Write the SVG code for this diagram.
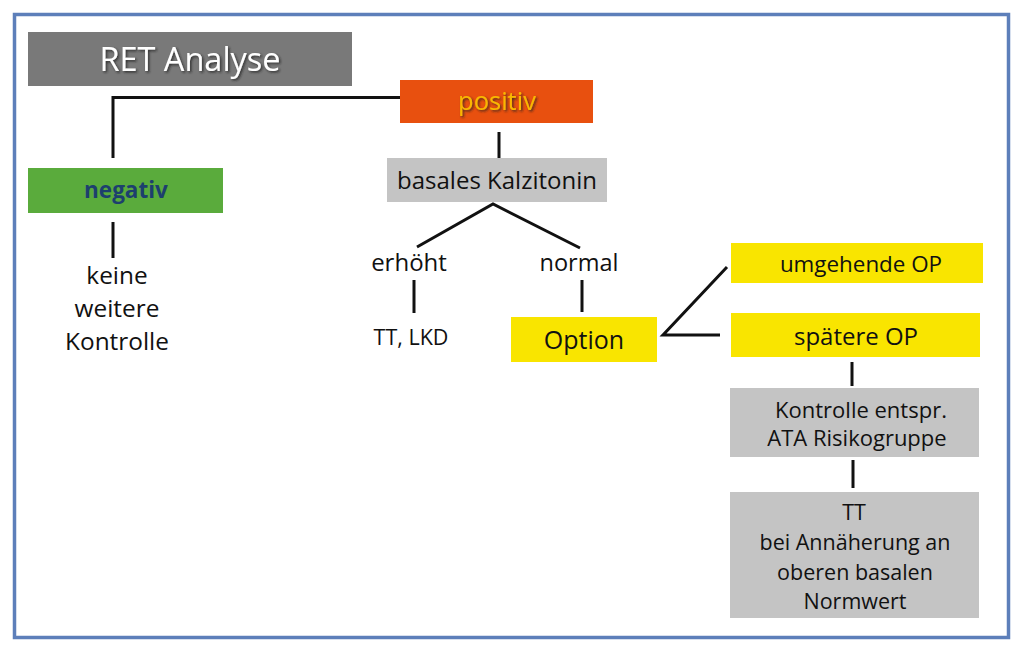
<svg xmlns="http://www.w3.org/2000/svg" width="1024" height="656" viewBox="0 0 1024 656">
<defs>
<filter id="sh" x="-10%" y="-20%" width="130%" height="150%">
<feDropShadow dx="1.5" dy="1.5" stdDeviation="0.8" flood-color="#222" flood-opacity="0.8"/>
</filter>
<style>
text{font-family:"Open Sans",Lato,"Liberation Sans",sans-serif;text-anchor:middle;fill:#111}
.ln{stroke:#111;stroke-width:3;fill:none}
.gray{fill:#c4c4c4}
.yel{fill:#f9e500}
</style>
</defs>
<rect x="0" y="0" width="1024" height="656" fill="#fff"/>
<rect x="14.5" y="14.5" width="994" height="623" fill="#fff" stroke="#5d7fba" stroke-width="3.5"/>

<g id="connectors">
<polyline class="ln" points="113,158 113,97.5 400,97.5"/>
<line class="ln" x1="499" y1="132" x2="499" y2="162"/>
<line class="ln" x1="113" y1="222" x2="113" y2="258"/>
<polyline class="ln" points="417,247 493,204 580,248"/>
<line class="ln" x1="414" y1="280" x2="414" y2="313"/>
<line class="ln" x1="582" y1="280" x2="582" y2="312"/>
<polyline class="ln" points="727,267 663,335 720,335"/>
<line class="ln" x1="852" y1="362" x2="852" y2="386"/>
<line class="ln" x1="853" y1="460" x2="853" y2="488"/>
</g>

<g id="ret">
<rect x="28" y="32" width="324" height="54" fill="#797979"/>
<text x="190" y="71" font-size="32.5" style="fill:#fff" filter="url(#sh)">RET Analyse</text>
</g>
<g id="positiv">
<rect x="400" y="80" width="193" height="43" fill="#e8500f"/>
<text x="497" y="110" font-size="25.5" style="fill:#f9b800" filter="url(#sh)">positiv</text>
</g>
<g id="kalzitonin">
<rect class="gray" x="387" y="158" width="220" height="44"/>
<text x="497" y="189" font-size="24">basales Kalzitonin</text>
</g>
<g id="negativ">
<rect x="28" y="168" width="195" height="45" fill="#5aab3c"/>
<text x="126" y="198" font-size="22.5" font-weight="bold" style="fill:#1d3f6e">negativ</text>
</g>
<g id="keine">
<text x="117" y="284" font-size="24.4">keine</text>
<text x="117" y="317" font-size="24.4">weitere</text>
<text x="117" y="350" font-size="24.4">Kontrolle</text>
</g>
<g id="erhoeht">
<text x="409" y="271" font-size="24">erhöht</text>
</g>
<g id="normal">
<text x="579" y="271" font-size="23.5">normal</text>
</g>
<g id="ttlkd">
<text x="411" y="345" font-size="21.5">TT, LKD</text>
</g>
<g id="option">
<rect class="yel" x="511" y="317" width="146" height="45"/>
<text x="584" y="349" font-size="25">Option</text>
</g>
<g id="umgehend">
<rect class="yel" x="731" y="243" width="252" height="40"/>
<text x="861" y="272" font-size="22.4">umgehende OP</text>
</g>
<g id="spaetere">
<rect class="yel" x="731" y="313" width="249" height="44"/>
<text x="856" y="345" font-size="24">spätere OP</text>
</g>
<g id="kontrolle">
<rect class="gray" x="730" y="388" width="249" height="69"/>
<text x="861" y="418" font-size="22">Kontrolle entspr.</text>
<text x="857" y="446" font-size="22">ATA Risikogruppe</text>
</g>
<g id="tt">
<rect class="gray" x="730" y="492" width="249" height="126"/>
<text x="854" y="520" font-size="21.5">TT</text>
<text x="855" y="550" font-size="21.5">bei Annäherung an</text>
<text x="855" y="580" font-size="21.5">oberen basalen</text>
<text x="855" y="609" font-size="21.5">Normwert</text>
</g>
</svg>
